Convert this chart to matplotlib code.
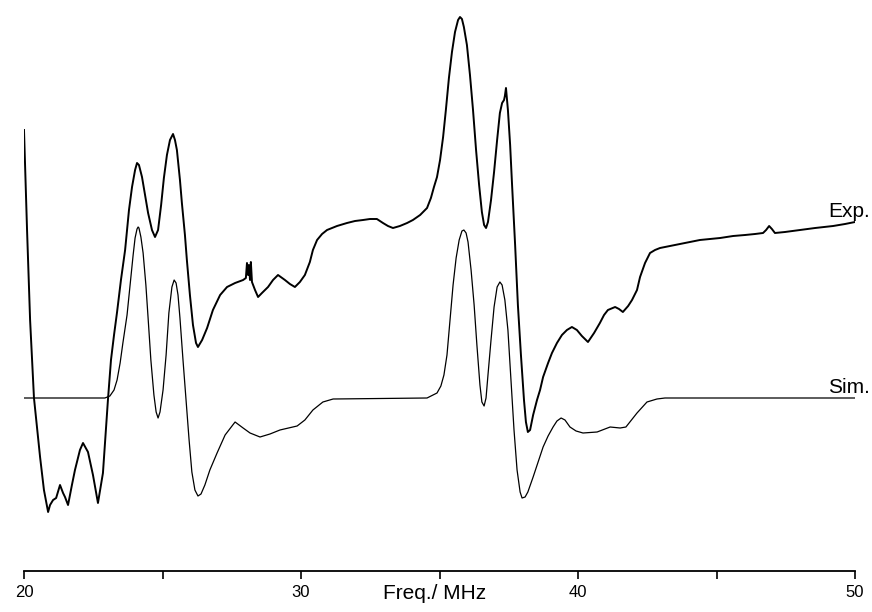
from matplotlib import pyplot as plt
import numpy as np

# experimental spectrum (Freq in MHz, intensity arb. units)
exp_f = [20.00, 20.11, 20.22, 20.36, 20.58, 20.72, 20.87, 20.94, 21.05, 21.16,
         21.30, 21.41, 21.48, 21.59, 21.73, 21.84, 22.02, 22.13, 22.31, 22.49,
         22.67, 22.85, 23.03,
         23.14, 23.25, 23.36, 23.50, 23.65, 23.79, 23.90, 24.01, 24.08, 24.15,
         24.26, 24.37, 24.48, 24.62, 24.73, 24.84, 24.95, 25.05, 25.16, 25.27,
         25.38, 25.45, 25.52, 25.63, 25.70, 25.81, 25.88, 25.99, 26.10, 26.21,
         26.28,
         26.43, 26.61, 26.82, 27.08, 27.33, 27.62, 27.91, 28.01, 28.05, 28.09,
         28.12, 28.16, 28.19, 28.23, 28.34, 28.45, 28.59, 28.81, 28.99, 29.17,
         29.42, 29.60, 29.78, 29.96, 30.14, 30.32, 30.43, 30.58, 30.76, 30.94,
         31.30, 31.66, 31.95, 32.24, 32.49, 32.74, 32.96, 33.14, 33.32, 33.57,
         33.83, 34.04, 34.30, 34.55,
         34.69, 34.80, 34.91, 35.02, 35.13, 35.23, 35.34, 35.45, 35.56, 35.67,
         35.74, 35.81, 35.88, 35.99, 36.10, 36.21, 36.32, 36.43, 36.53, 36.61,
         36.68, 36.75, 36.86, 36.97, 37.08, 37.18, 37.26, 37.33, 37.36, 37.40,
         37.44, 37.47, 37.55, 37.62, 37.73, 37.83, 37.94, 38.05, 38.12, 38.19,
         38.27, 38.38,
         38.52, 38.63, 38.74, 38.92, 39.06, 39.24, 39.42, 39.60, 39.78, 39.96,
         40.14, 40.36, 40.58, 40.79, 40.94, 41.08, 41.34, 41.48, 41.62, 41.81,
         41.95, 42.13, 42.24, 42.42, 42.60, 42.78, 42.96, 43.32, 43.68, 44.04,
         44.40, 44.77, 45.13, 45.60, 46.03, 46.39, 46.68, 46.79, 46.90, 47.00,
         47.11, 47.47, 48.01, 48.56, 49.21, 49.64, 50.00]
exp_i = [2.68, 1.68, 0.78, 0.00, -0.59, -0.92, -1.14, -1.07, -1.02, -1.00,
         -0.87, -0.95, -0.99, -1.07, -0.87, -0.72, -0.52, -0.45, -0.54, -0.77,
         -1.05, -0.75, -0.02,
         0.38, 0.63, 0.86, 1.18, 1.48, 1.88, 2.11, 2.28, 2.35, 2.33,
         2.21, 2.03, 1.85, 1.68, 1.61, 1.68, 1.93, 2.20, 2.43, 2.58,
         2.64, 2.58, 2.48, 2.18, 1.95, 1.63, 1.38, 1.03, 0.73, 0.55,
         0.51,
         0.58, 0.70, 0.88, 1.03, 1.11, 1.15, 1.18, 1.20, 1.35, 1.23,
         1.33, 1.18, 1.36, 1.16, 1.08, 1.01, 1.05, 1.11, 1.18, 1.23,
         1.18, 1.14, 1.11, 1.16, 1.23, 1.36, 1.48, 1.58, 1.64, 1.68,
         1.72, 1.75, 1.77, 1.78, 1.79, 1.79, 1.75, 1.72, 1.70, 1.72,
         1.75, 1.78, 1.83, 1.90,
         2.00, 2.11, 2.21, 2.38, 2.61, 2.88, 3.20, 3.46, 3.66, 3.78,
         3.81, 3.79, 3.71, 3.53, 3.23, 2.88, 2.48, 2.13, 1.86, 1.73,
         1.70, 1.76, 1.98, 2.26, 2.58, 2.85, 2.95, 2.98, 3.02, 3.10,
         2.98, 2.88, 2.53, 2.13, 1.53, 0.93, 0.43, -0.02, -0.24, -0.34,
         -0.32, -0.17,
         -0.02, 0.08, 0.21, 0.35, 0.45, 0.55, 0.63, 0.68, 0.71, 0.68,
         0.62, 0.56, 0.65, 0.75, 0.83, 0.88, 0.91, 0.89, 0.86, 0.92,
         0.98, 1.08, 1.21, 1.35, 1.45, 1.48, 1.50, 1.52, 1.54, 1.56,
         1.58, 1.59, 1.60, 1.62, 1.63, 1.64, 1.65, 1.68, 1.72, 1.69,
         1.65, 1.66, 1.68, 1.70, 1.72, 1.74, 1.76]

# simulated spectrum
sim_f = [20.00, 22.92, 23.10, 23.25, 23.36, 23.47, 23.57, 23.72, 23.83, 23.94,
         24.01, 24.08, 24.12, 24.15, 24.22, 24.30, 24.40, 24.48, 24.58, 24.69,
         24.77, 24.84, 24.91, 25.02, 25.13, 25.23, 25.34, 25.42, 25.49, 25.56,
         25.63, 25.74, 25.85, 25.96, 26.06, 26.17, 26.28, 26.39, 26.53, 26.71,
         26.97, 27.26, 27.62, 27.91, 28.16, 28.52, 28.88, 29.24, 29.86, 30.14,
         30.43, 30.79, 31.16, 34.55, 34.91, 35.05, 35.16, 35.27, 35.38, 35.49,
         35.60, 35.71, 35.81, 35.88, 35.96, 36.03, 36.14, 36.25, 36.35, 36.46,
         36.53, 36.61, 36.68, 36.75, 36.86, 36.97, 37.08, 37.18, 37.26, 37.36,
         37.47, 37.58, 37.69, 37.80, 37.91, 37.98, 38.09, 38.19, 38.38, 38.74,
         38.92, 39.10, 39.24, 39.39, 39.53, 39.71, 39.93, 40.18, 40.69, 41.16,
         41.52, 41.73, 42.13, 42.49, 42.85, 43.14, 50.00]
sim_i = [0.00, 0.00, 0.02, 0.08, 0.18, 0.35, 0.55, 0.83, 1.13, 1.43,
         1.60, 1.69, 1.71, 1.70, 1.61, 1.45, 1.13, 0.80, 0.38, 0.03,
         -0.14, -0.20, -0.14, 0.08, 0.43, 0.85, 1.11, 1.18, 1.15, 1.03,
         0.80, 0.38, -0.02, -0.42, -0.74, -0.92, -0.98, -0.96, -0.87, -0.72,
         -0.55, -0.37, -0.24, -0.30, -0.35, -0.39, -0.36, -0.32, -0.28, -0.22,
         -0.12, -0.04, -0.01, 0.00, 0.05, 0.12, 0.23, 0.43, 0.78, 1.13,
         1.40, 1.58, 1.67, 1.68, 1.65, 1.56, 1.28, 0.93, 0.53, 0.13,
         -0.04, -0.08, 0.00, 0.23, 0.58, 0.91, 1.11, 1.16, 1.13, 0.98,
         0.68, 0.18, -0.32, -0.72, -0.94, -1.00, -0.99, -0.94, -0.79, -0.49,
         -0.38, -0.29, -0.23, -0.20, -0.22, -0.29, -0.33, -0.35, -0.34, -0.29,
         -0.30, -0.29, -0.15, -0.04, -0.01, 0.00, 0.00]

plt.rcParams['font.family'] = ['Liberation Sans', 'DejaVu Sans']

fig = plt.figure(figsize=(8.72, 6.12), dpi=100)
ax = fig.add_axes([24/872, 41/612, 831/872, 571/612])

ax.plot(exp_f, exp_i, color='black', lw=1.4)
ax.plot(sim_f, sim_i, color='black', lw=0.9)

ax.text(49.03, 1.81, 'Exp.', ha='left', va='baseline', fontsize=15, clip_on=False)
ax.text(49.03, 0.05, 'Sim.', ha='left', va='baseline', fontsize=15, clip_on=False)

ax.set_xlim(20, 50)
ax.set_ylim(-1.73, 3.98)
for s in ['top', 'right', 'left']:
    ax.spines[s].set_visible(False)
ax.spines['bottom'].set_linewidth(1.3)
ax.set_yticks([])
ax.set_xticks([20, 30, 40, 50])
ax.set_xticks([25, 35, 45], minor=True)
ax.tick_params(axis='x', which='both', direction='out', length=6, width=1.2,
               labelsize=12, pad=4)
ax.set_xlabel('Freq./ MHz', fontsize=15)
ax.xaxis.set_label_coords(0.4946, -0.0228)

fig.savefig('out.png', dpi=100)
